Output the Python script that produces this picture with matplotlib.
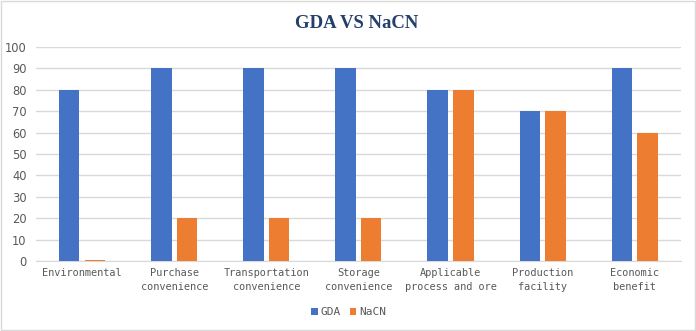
import numpy as np
import matplotlib
matplotlib.use('Agg')
import matplotlib.pyplot as plt

categories = ['Environmental', 'Purchase\nconvenience', 'Transportation\nconvenience',
              'Storage\nconvenience', 'Applicable\nprocess and ore', 'Production\nfacility',
              'Economic\nbenefit']
gda = [80, 90, 90, 90, 80, 70, 90]
nacn = [0.5, 20, 20, 20, 80, 70, 60]

fig = plt.figure(figsize=(6.96, 3.31), dpi=100)
fig.patches.append(plt.Rectangle((0.001, 0.002), 0.997, 0.995, transform=fig.transFigure,
                                 fill=False, edgecolor='#d9d9d9', linewidth=1))
ax = fig.add_axes([0.052, 0.2115, 0.926, 0.6465])

x = np.arange(len(categories))
w = 0.22
ax.bar(x - 0.14, gda, w, color='#4472c4', label='GDA', zorder=3)
ax.bar(x + 0.14, nacn, w, color='#ed7d31', label='NaCN', zorder=3)

ax.set_xlim(-0.5, len(categories) - 0.5)
ax.set_ylim(0, 100)
ax.set_yticks(range(0, 101, 10))
ax.yaxis.grid(True, color='#d9d9d9', linewidth=1, zorder=0)
for s in ['top', 'right', 'left']:
    ax.spines[s].set_visible(False)
ax.spines['bottom'].set_color('#d9d9d9')
ax.tick_params(axis='both', length=0, colors='#595959')
ax.tick_params(axis='y', labelsize=8.3, pad=7)
ax.set_xticks(x)
ax.set_xticklabels(categories, family='DejaVu Sans Mono', fontsize=7.4,
                   linespacing=1.5, color='#595959')
ax.tick_params(axis='x', pad=5)

fig.text(0.513, 0.93, 'GDA VS NaCN', ha='center', va='center', fontsize=13.5,
         fontweight='bold', family='Liberation Serif', color='#243f6b')

leg = fig.legend(loc='center', bbox_to_anchor=(0.501, 0.057), ncol=2, frameon=False,
                 handlelength=0.6, handleheight=0.6, handletextpad=0.25, columnspacing=0.8,
                 prop={'family': 'DejaVu Sans Mono', 'size': 8})
for t in leg.get_texts():
    t.set_color('#595959')

fig.savefig('out.png', dpi=100)
